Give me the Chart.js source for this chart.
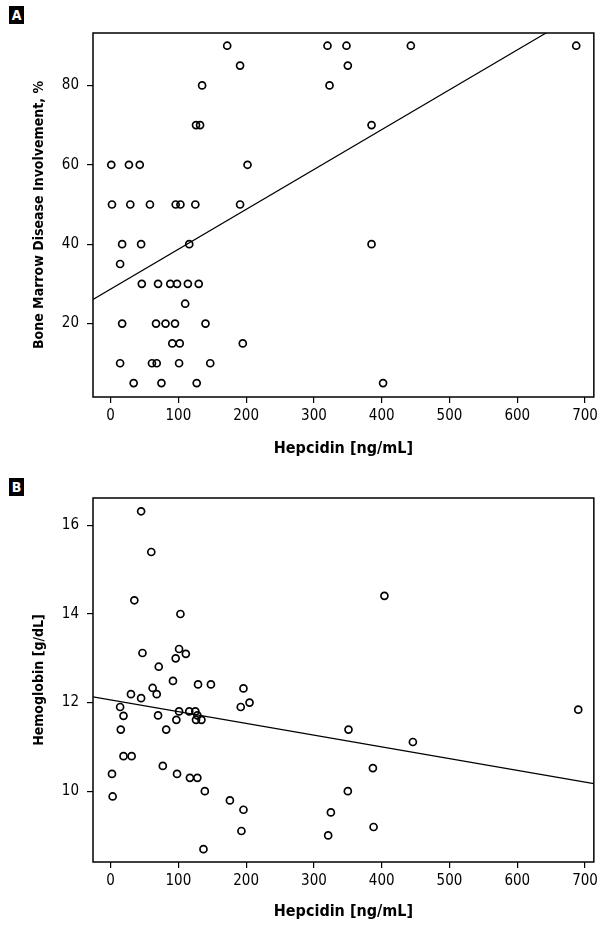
<!DOCTYPE html>
<html>
<head>
<meta charset="utf-8">
<script src="https://cdn.jsdelivr.net/npm/chart.js@4.4.1/dist/chart.umd.min.js"></script>
<style>
  body { margin: 0; background: #fff; width: 602px; height: 925px; position: relative; overflow: hidden; }
  .panel { position: absolute; left: 0; width: 602px; }
  .tag { position: absolute; left: 9px; width: 15px; height: 18px; background: #000; color: #fff;
         font: bold 14px 'DejaVu Sans Condensed', sans-serif;
         text-align: center; line-height: 18px; }
</style>
</head>
<body>
<div class="panel" style="top:0;height:462px"><canvas id="chartA"></canvas></div>
<div class="panel" style="top:462px;height:463px"><canvas id="chartB"></canvas></div>
<div class="tag" style="top:6px">A</div>
<div class="tag" style="top:478px">B</div>
<script>
// panel A: hepcidin vs bone marrow involvement
const hepA = [172, 320, 348, 443, 687, 191, 350, 135, 323, 126, 132, 385,
  1, 27, 43, 202, 2, 29, 58, 96, 103, 125, 191, 17, 45, 116, 385, 14,
  46, 70, 88, 98, 114, 130, 110, 17, 67, 81, 95, 140, 91, 102, 195,
  14, 61, 68, 101, 147, 34, 75, 127, 402];
const marrowA = [90, 90, 90, 90, 90, 85, 85, 80, 80, 70, 70, 70,
  60, 60, 60, 60, 50, 50, 50, 50, 50, 50, 50, 40, 40, 40, 40, 35,
  30, 30, 30, 30, 30, 30, 25, 20, 20, 20, 20, 20, 15, 15, 15,
  10, 10, 10, 10, 10, 5, 5, 5, 5];

// panel B: hepcidin vs hemoglobin
const hepB = [45, 60, 35, 103, 47, 101, 111, 96, 71, 92, 129, 148, 62, 68, 30, 45,
  196, 205, 192, 14, 19, 70, 101, 116, 125, 128, 97, 126, 134, 15, 82, 19, 31,
  2, 77, 98, 117, 128, 3, 139, 176, 196, 193, 137,
  404, 690, 351, 446, 387, 350, 325, 388, 321];
const hbB = [16.32, 15.4, 14.31, 14.0, 13.12, 13.21, 13.1, 13.0, 12.81, 12.49, 12.41, 12.41, 12.33, 12.19, 12.19, 12.1,
  12.32, 12.0, 11.9, 11.9, 11.7, 11.71, 11.8, 11.8, 11.8, 11.71, 11.61, 11.61, 11.61, 11.39, 11.39, 10.79, 10.79,
  10.39, 10.57, 10.39, 10.3, 10.3, 9.88, 10.0, 9.79, 9.58, 9.1, 8.69,
  14.41, 11.84, 11.39, 11.11, 10.52, 10.0, 9.52, 9.19, 9.0];

// regression lines [intercept, slope]
const fitA = [28.7, 0.1004];
const fitB = [12.06, -0.00265];

const xTicks = [0, 100, 200, 300, 400, 500, 600, 700];
const yTicksA = [20, 40, 60, 80];
const yTicksB = [10, 12, 14, 16];

const X_MIN = -26, X_MAX = 713;
const FONT = "'DejaVu Sans Condensed', 'Liberation Sans', sans-serif";

// black box round the plot area
const frame = {
  id: "frame",
  afterDraw(chart) {
    const { ctx, chartArea: a } = chart;
    ctx.save();
    ctx.strokeStyle = "#000";
    ctx.lineWidth = 1.5;
    ctx.strokeRect(a.left, a.top, a.right - a.left, a.bottom - a.top);
    ctx.restore();
  }
};

function buildChart(id, hep, vals, fit, yTicks, yMin, yMax, yTitle, topPad, xHeight) {
  const points = hep.map((h, i) => ({ x: h, y: vals[i] }));
  const line = [X_MIN, X_MAX].map(x => ({ x: x, y: fit[0] + fit[1] * x }));

  return new Chart(document.getElementById(id), {
    type: "scatter",
    data: {
      datasets: [{
        data: points,
        pointStyle: "circle",
        pointRadius: 3.5,
        borderWidth: 1.7,
        borderColor: "#000",
        backgroundColor: "rgba(0,0,0,0)"
      }, {
        type: "line",
        data: line,
        showLine: true,
        borderColor: "#000",
        borderWidth: 1.2,
        pointRadius: 0
      }]
    },
    options: {
      responsive: true,
      maintainAspectRatio: false,
      animation: false,
      layout: { padding: { top: topPad, right: 5, left: 0, bottom: 0 } },
      plugins: { legend: { display: false }, tooltip: { enabled: false } },
      scales: {
        x: {
          type: "linear",
          min: X_MIN,
          max: X_MAX,
          afterBuildTicks: s => { s.ticks = xTicks.map(v => ({ value: v })); },
          afterFit: s => { s.height = xHeight; },
          grid: { drawOnChartArea: false, drawTicks: true, tickLength: 6, color: "#000", lineWidth: 1.2 },
          border: { display: false },
          ticks: { color: "#000", font: { family: FONT, size: 15 }, padding: 4 },
          title: {
            display: true, text: "Hepcidin [ng/mL]", color: "#000",
            font: { family: FONT, size: 16, weight: "bold" }, padding: { bottom: 4 }
          }
        },
        y: {
          type: "linear",
          min: yMin,
          max: yMax,
          afterBuildTicks: s => { s.ticks = yTicks.map(v => ({ value: v })); },
          afterFit: s => { s.width = 93; },
          grid: { drawOnChartArea: false, drawTicks: true, tickLength: 6, color: "#000", lineWidth: 1.2 },
          border: { display: false },
          ticks: { color: "#000", font: { family: FONT, size: 15 }, padding: 8 },
          title: {
            display: true, text: yTitle, color: "#000",
            font: { family: FONT, size: 14, weight: "bold" }, padding: { top: 31 }
          }
        }
      }
    },
    plugins: [frame]
  });
}

buildChart("chartA", hepA, marrowA, fitA, yTicksA, 1.5, 93.2,
  "Bone Marrow Disease Involvement, %", 33, 65);
buildChart("chartB", hepB, hbB, fitB, yTicksB, 8.4, 16.62,
  "Hemoglobin [g/dL]", 36, 63);
</script>
</body>
</html>
